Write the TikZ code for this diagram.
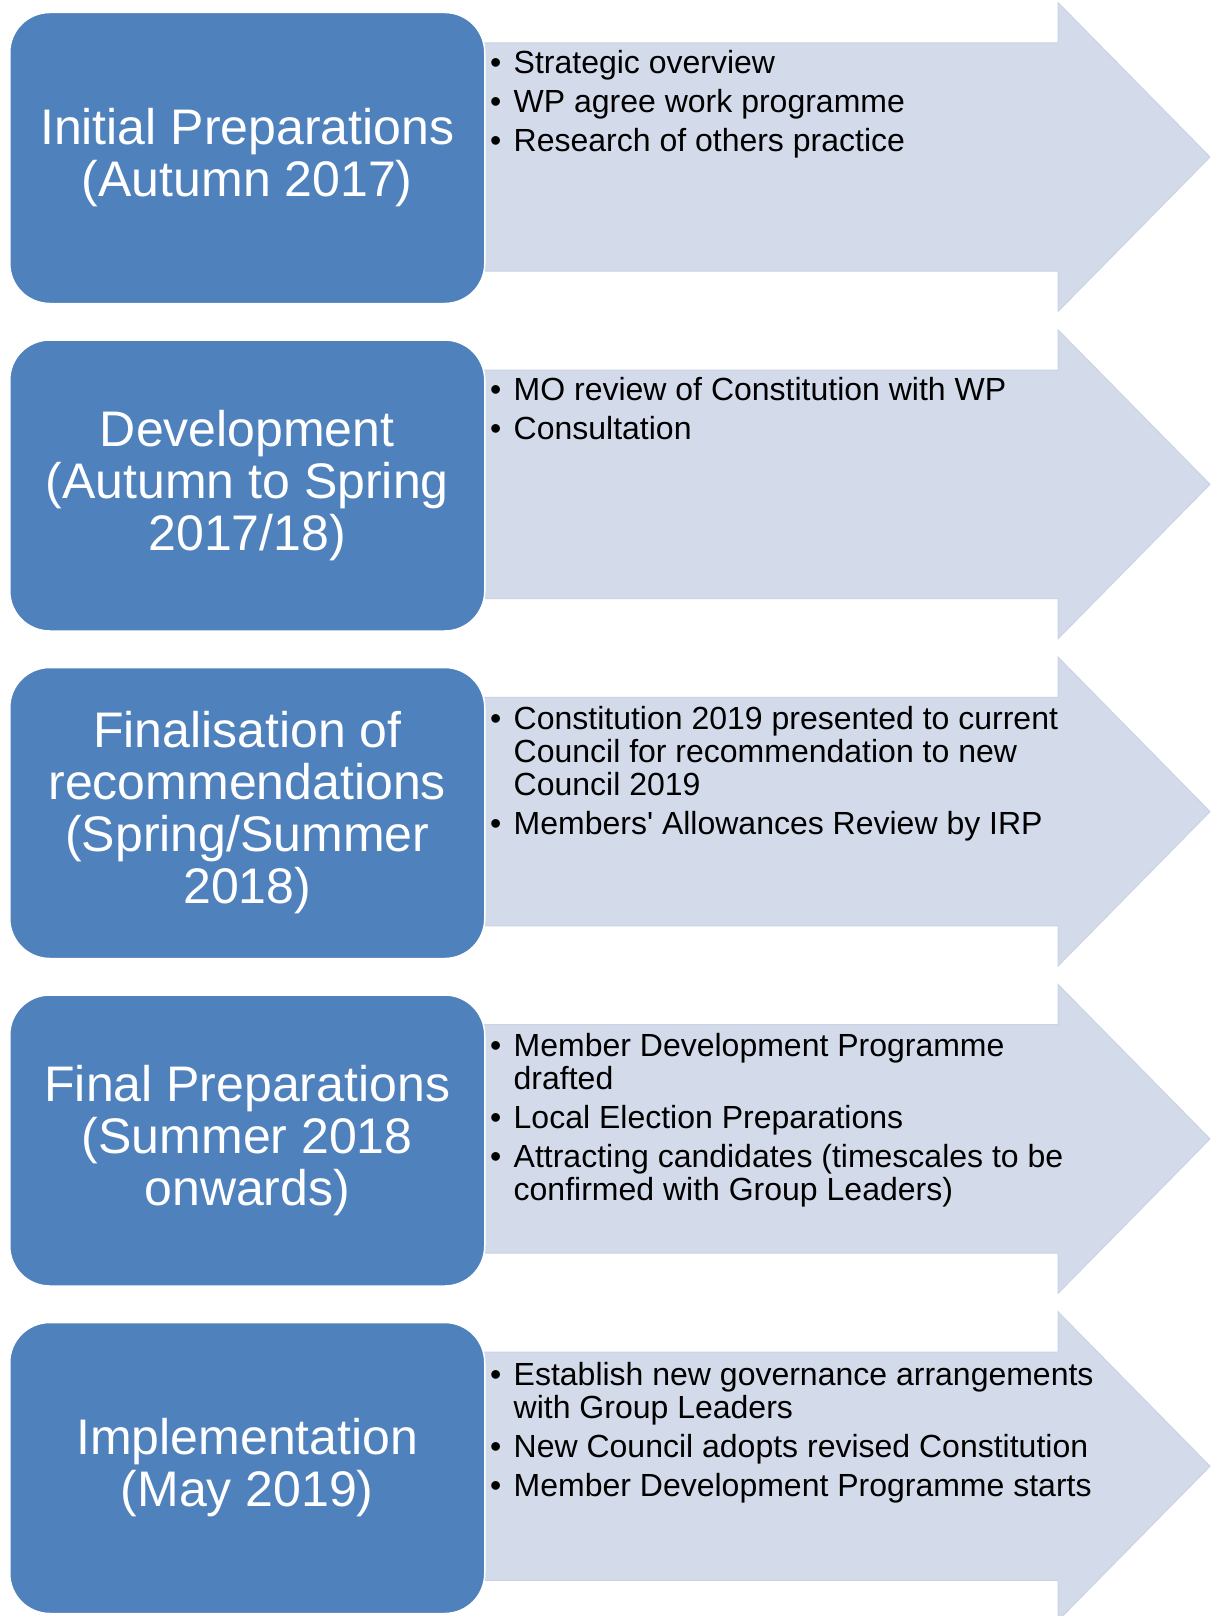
\documentclass[tikz,border=0pt]{standalone}
\usepackage{fontspec}
\setmainfont{Liberation Sans}
\usetikzlibrary{positioning}
\definecolor{stageblue}{RGB}{79,129,189}
\definecolor{bandfill}{RGB}{211,218,234}
\definecolor{bandedge}{RGB}{203,211,229}
\newcommand{\bitem}{\makebox[23.5pt][l]{\textbullet}}
\newcommand{\bgap}{\hspace*{23.5pt}}

\begin{document}
\begin{tikzpicture}[
    x=1pt, y=-1pt,
    stage/.style={rectangle, rounded corners=40pt, draw=white, line width=1.5pt, fill=stageblue, text=white, minimum width=475pt, minimum height=291pt, align=center, font=\fontsize{50}{52}\selectfont},
    notes/.style={anchor=base west, inner sep=0pt, align=left, font=\fontsize{32}{33}\selectfont},
    band/.style={fill=bandfill, draw=bandedge, line width=1pt}
]
    \useasboundingbox (0,0) rectangle (1211,1616);
    \clip (0,0) rectangle (1211,1616);

    % Arrows behind the stages
    \filldraw [band] (480,42.8) -- (1058,42.8) -- (1058,2.5) -- (1210,157) -- (1058,311.5) -- (1058,271.2) -- (480,271.2) -- cycle;
    \filldraw [band] (480,370.1) -- (1058,370.1) -- (1058,329.8) -- (1210,484.3) -- (1058,638.8) -- (1058,598.5) -- (480,598.5) -- cycle;
    \filldraw [band] (480,697.4) -- (1058,697.4) -- (1058,657.1) -- (1210,811.6) -- (1058,966.1) -- (1058,925.8) -- (480,925.8) -- cycle;
    \filldraw [band] (480,1024.7) -- (1058,1024.7) -- (1058,984.4) -- (1210,1138.9) -- (1058,1293.4) -- (1058,1253.1) -- (480,1253.1) -- cycle;
    \filldraw [band] (480,1352) -- (1058,1352) -- (1058,1311.7) -- (1210,1466.2) -- (1058,1620.7) -- (1058,1580.4) -- (480,1580.4) -- cycle;

    % Stages
    \node [stage] (initial) at (247.25,158) {Initial Preparations\\(Autumn 2017)};
    \node [stage] (development) at (247.25,485.5) {Development\\(Autumn to Spring\\2017/18)};
    \node [stage] (finalisation) at (247.25,813) {Finalisation of\\recommendations\\(Spring/Summer\\2018)};
    \node [stage] (final) at (247.25,1140.5) {Final Preparations\\(Summer 2018\\onwards)};
    \node [stage] (implementation) at (247.25,1468) {Implementation\\(May 2019)};

    % Tasks per stage (placed by the baseline of their last line)
    \node [notes] (initialtasks) at (490,151.7) {\bitem Strategic overview\\[6pt]\bitem WP agree work programme\\[6pt]\bitem Research of others practice};
    \node [notes] (developmenttasks) at (490,439.8) {\bitem MO review of Constitution with WP\\[6pt]\bitem Consultation};
    \node [notes] (finalisationtasks) at (490,834) {\bitem Constitution 2019 presented to current\\\bgap Council for recommendation to new\\\bgap Council 2019\\[6pt]\bitem Members\textquotesingle\ Allowances Review by IRP};
    \node [notes] (finaltasks) at (490,1200.8) {\bitem Member Development Programme\\\bgap drafted\\[6pt]\bitem Local Election Preparations\\[6pt]\bitem Attracting candidates (timescales to be\\\bgap confirmed with Group Leaders)};
    \node [notes] (implementationtasks) at (490,1496) {\bitem Establish new governance arrangements\\\bgap with Group Leaders\\[6pt]\bitem New Council adopts revised Constitution\\[6pt]\bitem Member Development Programme starts};
\end{tikzpicture}
\end{document}
